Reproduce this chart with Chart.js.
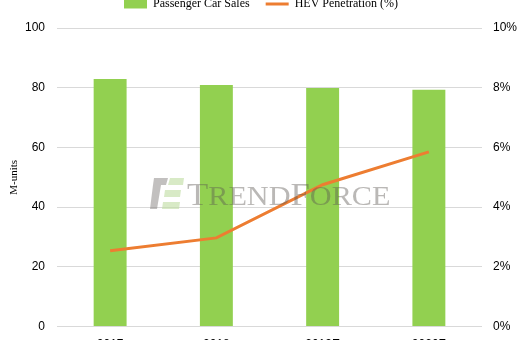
<!DOCTYPE html>
<html>
<head>
<meta charset="utf-8">
<script src="https://cdn.jsdelivr.net/npm/chart.js@4.4.0/dist/chart.umd.min.js"></script>
<style>
  html, body { margin: 0; padding: 0; background: #fff; overflow: hidden; }
  body { width: 522px; height: 340px; position: relative; }
  .wrap { position: absolute; left: 0; top: -18px; width: 522px; height: 381px; }
</style>
</head>
<body>
<div class="wrap"><canvas id="myChart"></canvas></div>
<script>
var years = ['2017', '2018', '2019E', '2020F'];
var carSales = [82.9, 80.9, 79.9, 79.3];
var hevShare = [2.54, 2.97, 4.75, 5.85];
var leftTicks = [0, 20, 40, 60, 80, 100];
var rightTicks = [0, 2, 4, 6, 8, 10];

var tickFont = { family: 'Liberation Sans', size: 12 };
var serif = 'Liberation Serif';

// faint TrendForce mark, laid over bars and line
var watermark = {
    id: 'watermark',
    afterInit: function(chart) {
        // a little more room between legend and plot
        var legend = chart.legend;
        var fit = legend.fit;
        legend.fit = function() {
            fit.apply(this, arguments);
            this.height += 8;
        };
    },
    afterDatasetsDraw: function(chart) {
        var c = chart.ctx, a = chart.chartArea;
        var x = a.left + 93, y = a.top + 150;
        c.save();
        c.fillStyle = 'rgba(120,115,112,0.45)';
        c.beginPath();
        c.moveTo(x + 4, y); c.lineTo(x + 18, y); c.lineTo(x + 16, y + 7);
        c.lineTo(x + 11, y + 7); c.lineTo(x + 7, y + 31); c.lineTo(x, y + 31);
        c.lineTo(x + 3, y + 7); c.closePath(); c.fill();
        c.fillStyle = 'rgba(190,220,160,0.6)';
        c.beginPath();
        c.moveTo(x + 20, y); c.lineTo(x + 34, y); c.lineTo(x + 33, y + 7);
        c.lineTo(x + 18, y + 7); c.closePath(); c.fill();
        c.beginPath();
        c.moveTo(x + 15, y + 12); c.lineTo(x + 31, y + 12); c.lineTo(x + 30, y + 19);
        c.lineTo(x + 14, y + 19); c.closePath(); c.fill();
        c.beginPath();
        c.moveTo(x + 13, y + 24); c.lineTo(x + 30, y + 24); c.lineTo(x + 29, y + 31);
        c.lineTo(x + 12, y + 31); c.closePath(); c.fill();

        c.fillStyle = 'rgba(90,85,82,0.42)';
        c.textBaseline = 'alphabetic';
        var parts = [['T', 31], ['REND', 27], ['F', 31], ['ORCE', 27]];
        c.translate(x + 37, y + 27);
        c.scale(1.12, 1);
        var px = 0;
        parts.forEach(function(p) {
            c.font = p[1] + 'px ' + serif;
            c.fillText(p[0], px, 0);
            px += c.measureText(p[0]).width;
        });
        c.restore();
    }
};

var ctx = document.getElementById('myChart').getContext('2d');
var chart = new Chart(ctx, {
    type: 'bar',
    data: {
        labels: years,
        datasets: [{
            type: 'line',
            label: 'HEV Penetration (%)',
            data: hevShare,
            yAxisID: 'y1',
            borderColor: '#ED7D31',
            backgroundColor: '#ED7D31',
            borderWidth: 3,
            pointRadius: 0,
            tension: 0,
            order: 0
        }, {
            label: 'Passenger Car Sales',
            data: carSales,
            yAxisID: 'y',
            backgroundColor: '#92D050',
            barPercentage: 0.31,
            categoryPercentage: 1,
            order: 1
        }]
    },
    options: {
        responsive: true,
        maintainAspectRatio: false,
        animation: false,
        layout: { padding: 0 },
        plugins: {
            tooltip: { enabled: false },
            legend: {
                position: 'top',
                reverse: true,
                labels: {
                    font: { family: serif, size: 12 },
                    color: '#000',
                    usePointStyle: true,
                    pointStyleWidth: 23,
                    boxHeight: 9,
                    padding: 16,
                    generateLabels: function(chart) {
                        var items = Chart.defaults.plugins.legend.labels.generateLabels(chart);
                        items.forEach(function(it) {
                            if (it.datasetIndex === 0) {
                                it.pointStyle = 'line';
                                it.lineWidth = 3;
                            } else {
                                it.pointStyle = 'rect';
                                it.lineWidth = 0;
                            }
                        });
                        return items;
                    }
                }
            }
        },
        scales: {
            x: {
                grid: { display: false, drawTicks: false },
                border: { display: false },
                ticks: { font: tickFont, color: '#000', padding: 11 }
            },
            y: {
                position: 'left',
                min: 0, max: 100,
                afterBuildTicks: function(s) { s.ticks = leftTicks.map(function(v) { return { value: v }; }); },
                afterFit: function(s) { s.width = 57; },
                grid: { color: '#d9d9d9', drawTicks: false },
                border: { display: false },
                ticks: { font: tickFont, color: '#000', padding: 12 },
                title: { display: true, text: 'M-units', font: { family: serif, size: 11 }, color: '#000', padding: { top: 8, bottom: 0 } }
            },
            y1: {
                position: 'right',
                min: 0, max: 10,
                afterBuildTicks: function(s) { s.ticks = rightTicks.map(function(v) { return { value: v }; }); },
                afterFit: function(s) { s.width = 40; },
                grid: { display: false, drawTicks: false },
                border: { display: false },
                ticks: { font: tickFont, color: '#000', padding: 11, callback: function(v) { return v + '%'; } }
            }
        }
    },
    plugins: [watermark]
});
</script>
</body>
</html>
